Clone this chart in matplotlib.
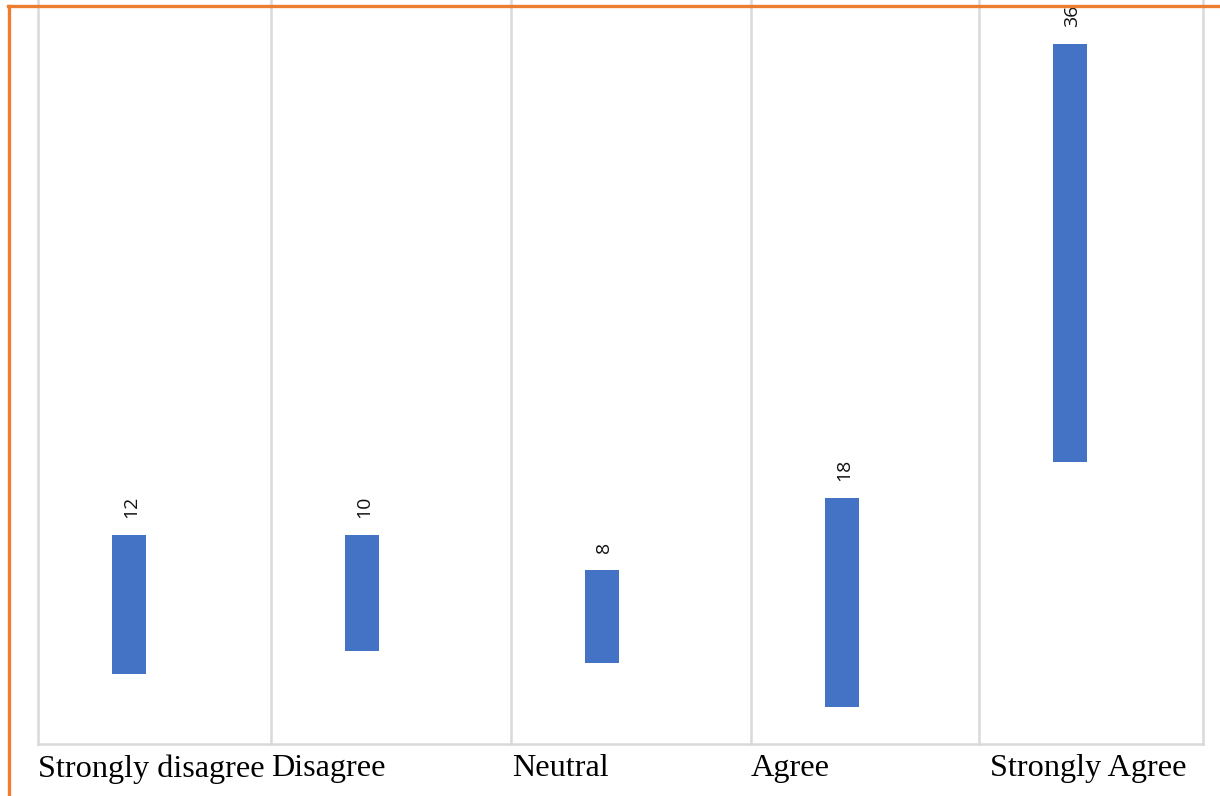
import matplotlib.pyplot as plt
from matplotlib.lines import Line2D

categories = ["Strongly disagree", "Disagree", "Neutral", "Agree", "Strongly Agree"]
counts = [12, 10, 8, 18, 36]
# hidden base series the visible bars sit on
bases = [6, 8, 7, 3.2, 24.3]

# table column widths (the cells are not all equal)
col_w = [233, 240, 240, 228, 224]
edges = [0]
for w in col_w:
    edges.append(edges[-1] + w)

fig = plt.figure(figsize=(12.2, 7.96), dpi=100)
ax = fig.add_axes([38 / 1220, 52 / 796, 1165 / 1220, 744 / 796])

pos = [e + 90.5 for e in edges[:-1]]
ax.bar(pos, counts, bottom=bases, width=34, color="#4472C4", zorder=3)

for p, b, c in zip(pos, bases, counts):
    ax.text(p + 3, b + c + 1.45, str(c), rotation=90, ha="center", va="bottom",
            fontsize=14, family="Open Sans", color="#111111", zorder=4)

ax.set_xlim(0, edges[-1])
ax.set_ylim(0, 64.1)

# cell dividers
for e in edges:
    ax.axvline(e, color="#D9D9D9", lw=1.8, zorder=1, clip_on=False)
ax.axhline(0, color="#D9D9D9", lw=1.8, zorder=1, clip_on=False)

for s in ax.spines.values():
    s.set_visible(False)
ax.set_xticks([])
ax.set_yticks([])

nudge = [0, 0, 1, 0, 11]
for e, n, name in zip(edges, nudge, categories):
    ax.text(e + n, -0.9, name, ha="left", va="top", fontsize=23.2,
            family="Liberation Serif", color="black")

# orange frame
fig.add_artist(Line2D([8 / 1220, 1], [1 - 5.5 / 796, 1 - 5.5 / 796],
                      transform=fig.transFigure, color="#ED7D31", lw=2.4))
fig.add_artist(Line2D([9 / 1220, 9 / 1220], [0, 1 - 5.5 / 796],
                      transform=fig.transFigure, color="#ED7D31", lw=2.4))

fig.savefig("out.png", dpi=100)
